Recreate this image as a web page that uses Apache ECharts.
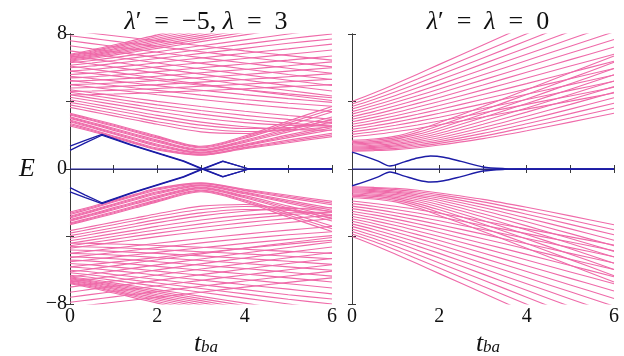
<!DOCTYPE html>
<html>
<head>
<meta charset="utf-8">
<script src="https://cdn.jsdelivr.net/npm/echarts@6/dist/echarts.min.js"></script>
<style>
html, body { margin: 0; background: #fff; }
#chart { width: 624px; height: 356px; }
</style>
</head>
<body>
<div id="chart"></div>
<script>
// sample positions along t_ba for the pink levels
const tGrid = [0, 0.5, 1, 1.5, 2, 3, 4, 5, 6]

// left panel (lambda' = -5, lambda = 3), E > 0 levels
const leftUpper = [
	[6.8, 7.05, 7.35, 7.65, 7.95, 8.6, 9.2, 9.8, 10.4],
	[6.75, 6.98, 7.27, 7.56, 7.85, 8.45, 9.02, 9.6, 10.17],
	[6.7, 6.92, 7.2, 7.48, 7.75, 8.3, 8.85, 9.4, 9.95],
	[6.65, 6.86, 7.12, 7.39, 7.65, 8.18, 8.7, 9.22, 9.75],
	[6.6, 6.8, 7.05, 7.3, 7.55, 8.05, 8.55, 9.05, 9.55],
	[6.55, 6.74, 6.97, 7.21, 7.45, 7.92, 8.4, 8.88, 9.35],
	[6.5, 6.68, 6.9, 7.12, 7.35, 7.8, 8.25, 8.7, 9.15],
	[6.45, 6.62, 6.83, 7.04, 7.25, 7.68, 8.1, 8.52, 8.95],
	[6.4, 6.55, 6.75, 6.95, 7.15, 7.55, 7.95, 8.35, 8.75],
	[6.3, 6.43, 6.6, 6.78, 6.95, 7.3, 7.65, 8.0, 8.35],
	[6.15, 6.28, 6.43, 6.6, 6.76, 7.08, 7.4, 7.72, 8.0],
	[6.0, 6.1, 6.25, 6.4, 6.55, 6.85, 7.15, 7.45, 7.7],
	[5.8, 5.9, 6.02, 6.15, 6.3, 6.58, 6.86, 7.12, 7.4],
	[5.6, 5.68, 5.8, 5.92, 6.05, 6.3, 6.55, 6.8, 7.05],
	[5.4, 5.46, 5.55, 5.65, 5.77, 6.0, 6.22, 6.45, 6.7],
	[5.2, 5.25, 5.32, 5.4, 5.5, 5.7, 5.9, 6.12, 6.35],
	[5.0, 5.04, 5.1, 5.17, 5.25, 5.42, 5.6, 5.8, 6.0],
	[4.8, 4.83, 4.88, 4.94, 5.0, 5.15, 5.3, 5.47, 5.65],
	[4.6, 4.62, 4.66, 4.71, 4.77, 4.9, 5.03, 5.17, 5.32],
	[4.4, 4.41, 4.44, 4.48, 4.53, 4.64, 4.76, 4.88, 5.0],
	[8.2, 8.05, 7.9, 7.75, 7.6, 7.3, 7.0, 6.72, 6.45],
	[7.9, 7.74, 7.58, 7.42, 7.26, 6.95, 6.64, 6.34, 6.05],
	[7.6, 7.43, 7.26, 7.09, 6.92, 6.6, 6.28, 5.97, 5.67],
	[7.3, 7.12, 6.95, 6.78, 6.6, 6.26, 5.93, 5.6, 5.3],
	[7.0, 6.82, 6.64, 6.46, 6.28, 5.93, 5.59, 5.26, 4.95],
	[6.7, 6.52, 6.34, 6.16, 5.98, 5.62, 5.27, 4.94, 4.62],
	[6.4, 6.22, 6.04, 5.86, 5.68, 5.33, 4.98, 4.65, 4.33],
	[6.1, 5.92, 5.74, 5.56, 5.38, 5.03, 4.69, 4.37, 4.06],
	[5.8, 5.66, 5.52, 5.38, 5.24, 4.96, 4.7, 4.45, 4.22],
	[5.5, 5.36, 5.22, 5.08, 4.94, 4.67, 4.41, 4.17, 3.95],
	[5.25, 5.1, 4.95, 4.8, 4.66, 4.38, 4.12, 3.9, 3.72],
	[5.0, 4.85, 4.7, 4.55, 4.4, 4.12, 3.86, 3.62, 3.4],
	[4.7, 4.52, 4.35, 4.18, 4.01, 3.7, 3.42, 3.17, 2.95],
	[4.55, 4.36, 4.17, 3.98, 3.8, 3.47, 3.18, 2.94, 2.75],
	[4.4, 4.2, 4.0, 3.8, 3.6, 3.25, 2.95, 2.72, 2.55],
	[4.25, 4.04, 3.83, 3.62, 3.4, 3.02, 2.75, 2.6, 2.55],
	[4.1, 3.87, 3.64, 3.41, 3.18, 2.78, 2.5, 2.35, 2.3],
	[3.95, 3.72, 3.48, 3.24, 3.0, 2.6, 2.4, 2.45, 2.7],
	[3.8, 3.55, 3.3, 3.05, 2.8, 2.4, 2.22, 2.3, 2.5],
	[3.65, 3.4, 3.15, 2.9, 2.65, 2.2, 2.1, 2.4, 2.9],
	[3.3, 2.98, 2.65, 2.3, 1.95, 1.35, 1.95, 2.85, 3.7],
	[3.25, 2.92, 2.59, 2.24, 1.89, 1.3, 1.88, 2.72, 3.54],
	[3.2, 2.87, 2.53, 2.18, 1.83, 1.25, 1.82, 2.6, 3.38],
	[3.1, 2.76, 2.41, 2.06, 1.71, 1.16, 1.7, 2.4, 3.08],
	[3.05, 2.7, 2.35, 2.0, 1.65, 1.12, 1.64, 2.3, 2.94],
	[3.0, 2.65, 2.29, 1.94, 1.59, 1.08, 1.58, 2.2, 2.8],
	[2.9, 2.54, 2.18, 1.82, 1.47, 1.0, 1.47, 2.02, 2.56],
	[2.85, 2.49, 2.12, 1.76, 1.41, 0.96, 1.42, 1.94, 2.44],
	[2.8, 2.44, 2.07, 1.7, 1.35, 0.93, 1.37, 1.86, 2.33],
	[2.7, 2.34, 1.96, 1.59, 1.24, 0.87, 1.28, 1.71, 2.12],
	[2.62, 2.28, 1.91, 1.54, 1.18, 0.84, 1.24, 1.63, 2.02],
	[2.55, 2.22, 1.86, 1.49, 1.13, 0.82, 1.2, 1.56, 1.92],
]

// left panel, E < 0 levels
const leftLower = [
	[-6.8, -7.05, -7.35, -7.65, -7.95, -8.6, -9.2, -9.8, -10.4],
	[-6.75, -6.98, -7.27, -7.56, -7.85, -8.45, -9.02, -9.6, -10.17],
	[-6.7, -6.92, -7.2, -7.48, -7.75, -8.3, -8.85, -9.4, -9.95],
	[-6.65, -6.86, -7.12, -7.39, -7.65, -8.18, -8.7, -9.22, -9.75],
	[-6.6, -6.8, -7.05, -7.3, -7.55, -8.05, -8.55, -9.05, -9.55],
	[-6.55, -6.74, -6.97, -7.21, -7.45, -7.92, -8.4, -8.88, -9.35],
	[-6.5, -6.68, -6.9, -7.12, -7.35, -7.8, -8.25, -8.7, -9.15],
	[-6.45, -6.62, -6.83, -7.04, -7.25, -7.68, -8.1, -8.52, -8.95],
	[-6.4, -6.55, -6.75, -6.95, -7.15, -7.55, -7.95, -8.35, -8.75],
	[-6.3, -6.43, -6.6, -6.78, -6.95, -7.3, -7.65, -8.0, -8.35],
	[-6.15, -6.28, -6.43, -6.6, -6.76, -7.08, -7.4, -7.72, -8.0],
	[-6.0, -6.1, -6.25, -6.4, -6.55, -6.85, -7.15, -7.45, -7.7],
	[-5.8, -5.9, -6.02, -6.15, -6.3, -6.58, -6.86, -7.12, -7.4],
	[-5.6, -5.68, -5.8, -5.92, -6.05, -6.3, -6.55, -6.8, -7.05],
	[-5.4, -5.46, -5.55, -5.65, -5.77, -6.0, -6.22, -6.45, -6.7],
	[-5.2, -5.25, -5.32, -5.4, -5.5, -5.7, -5.9, -6.12, -6.35],
	[-5.0, -5.04, -5.1, -5.17, -5.25, -5.42, -5.6, -5.8, -6.0],
	[-4.8, -4.83, -4.88, -4.94, -5.0, -5.15, -5.3, -5.47, -5.65],
	[-4.6, -4.62, -4.66, -4.71, -4.77, -4.9, -5.03, -5.17, -5.32],
	[-4.4, -4.41, -4.44, -4.48, -4.53, -4.64, -4.76, -4.88, -5.0],
	[-8.2, -8.05, -7.9, -7.75, -7.6, -7.3, -7.0, -6.72, -6.45],
	[-7.9, -7.74, -7.58, -7.42, -7.26, -6.95, -6.64, -6.34, -6.05],
	[-7.6, -7.43, -7.26, -7.09, -6.92, -6.6, -6.28, -5.97, -5.67],
	[-7.3, -7.12, -6.95, -6.78, -6.6, -6.26, -5.93, -5.6, -5.3],
	[-7.0, -6.82, -6.64, -6.46, -6.28, -5.93, -5.59, -5.26, -4.95],
	[-6.7, -6.52, -6.34, -6.16, -5.98, -5.62, -5.27, -4.94, -4.62],
	[-6.4, -6.22, -6.04, -5.86, -5.68, -5.33, -4.98, -4.65, -4.33],
	[-6.1, -5.92, -5.74, -5.56, -5.38, -5.03, -4.69, -4.37, -4.06],
	[-5.8, -5.66, -5.52, -5.38, -5.24, -4.96, -4.7, -4.45, -4.22],
	[-5.5, -5.36, -5.22, -5.08, -4.94, -4.67, -4.41, -4.17, -3.95],
	[-5.25, -5.1, -4.95, -4.8, -4.66, -4.38, -4.12, -3.9, -3.72],
	[-5.0, -4.85, -4.7, -4.55, -4.4, -4.12, -3.86, -3.62, -3.4],
	[-4.7, -4.52, -4.35, -4.18, -4.01, -3.7, -3.42, -3.17, -2.95],
	[-4.55, -4.36, -4.17, -3.98, -3.8, -3.47, -3.18, -2.94, -2.75],
	[-4.4, -4.2, -4.0, -3.8, -3.6, -3.25, -2.95, -2.72, -2.55],
	[-4.25, -4.04, -3.83, -3.62, -3.4, -3.02, -2.75, -2.6, -2.55],
	[-4.1, -3.87, -3.64, -3.41, -3.18, -2.78, -2.5, -2.35, -2.3],
	[-3.95, -3.72, -3.48, -3.24, -3.0, -2.6, -2.4, -2.45, -2.7],
	[-3.8, -3.55, -3.3, -3.05, -2.8, -2.4, -2.22, -2.3, -2.5],
	[-3.65, -3.4, -3.15, -2.9, -2.65, -2.2, -2.1, -2.4, -2.9],
	[-3.3, -2.98, -2.65, -2.3, -1.95, -1.35, -1.95, -2.85, -3.7],
	[-3.25, -2.92, -2.59, -2.24, -1.89, -1.3, -1.88, -2.72, -3.54],
	[-3.2, -2.87, -2.53, -2.18, -1.83, -1.25, -1.82, -2.6, -3.38],
	[-3.1, -2.76, -2.41, -2.06, -1.71, -1.16, -1.7, -2.4, -3.08],
	[-3.05, -2.7, -2.35, -2.0, -1.65, -1.12, -1.64, -2.3, -2.94],
	[-3.0, -2.65, -2.29, -1.94, -1.59, -1.08, -1.58, -2.2, -2.8],
	[-2.9, -2.54, -2.18, -1.82, -1.47, -1.0, -1.47, -2.02, -2.56],
	[-2.85, -2.49, -2.12, -1.76, -1.41, -0.96, -1.42, -1.94, -2.44],
	[-2.8, -2.44, -2.07, -1.7, -1.35, -0.93, -1.37, -1.86, -2.33],
	[-2.7, -2.34, -1.96, -1.59, -1.24, -0.87, -1.28, -1.71, -2.12],
	[-2.62, -2.28, -1.91, -1.54, -1.18, -0.84, -1.24, -1.63, -2.02],
	[-2.55, -2.22, -1.86, -1.49, -1.13, -0.82, -1.2, -1.56, -1.92],
]

// left panel in-gap (blue) states
const leftBlueT = [0, 0.35, 0.73, 1.4, 2.1, 2.6, 3.0, 3.5, 4.1, 6]
const leftBlue = [
	[1.1, 1.55, 2.0, 1.42, 0.85, 0.45, 0.02, -0.47, 0, 0],
	[1.35, 1.7, 2.05, 1.45, 0.88, 0.48, 0.05, -0.45, 0, 0],
	[-1.1, -1.55, -2.0, -1.42, -0.85, -0.45, -0.02, 0.47, 0, 0],
	[-1.35, -1.7, -2.05, -1.45, -0.88, -0.48, -0.05, 0.45, 0, 0],
]

// right panel (lambda' = lambda = 0), E > 0 levels
const rightUpper = [
	[4.0, 4.5, 5.05, 5.62, 6.2, 7.35, 8.5, 9.6, 10.7],
	[3.85, 4.3, 4.8, 5.33, 5.87, 6.95, 8.02, 9.1, 10.15],
	[3.7, 4.12, 4.58, 5.07, 5.57, 6.58, 7.6, 8.62, 9.63],
	[3.55, 3.94, 4.36, 4.81, 5.28, 6.23, 7.19, 8.15, 9.1],
	[3.4, 3.76, 4.15, 4.57, 5.0, 5.9, 6.8, 7.7, 8.6],
	[3.25, 3.58, 3.95, 4.34, 4.74, 5.58, 6.43, 7.28, 8.13],
	[3.1, 3.4, 3.75, 4.11, 4.49, 5.28, 6.07, 6.87, 7.67],
	[2.95, 3.23, 3.55, 3.89, 4.24, 4.98, 5.73, 6.48, 7.23],
	[2.8, 3.06, 3.35, 3.67, 4.0, 4.69, 5.39, 6.1, 6.8],
	[2.65, 2.89, 3.16, 3.45, 3.76, 4.41, 5.06, 5.72, 6.38],
	[2.5, 2.72, 2.97, 3.24, 3.53, 4.13, 4.74, 5.35, 5.96],
	[2.35, 2.55, 2.78, 3.03, 3.3, 3.86, 4.43, 5.0, 5.57],
	[2.2, 2.38, 2.59, 2.82, 3.07, 3.59, 4.12, 4.66, 5.2],
	[2.05, 2.21, 2.4, 2.61, 2.84, 3.33, 3.83, 4.33, 4.84],
	[1.9, 2.04, 2.21, 2.4, 2.62, 3.08, 3.55, 4.02, 4.5],
	[1.7, 1.78, 1.95, 2.3, 2.75, 3.7, 4.7, 5.7, 6.7],
	[1.62, 1.7, 1.86, 2.17, 2.58, 3.48, 4.42, 5.37, 6.32],
	[1.55, 1.62, 1.77, 2.05, 2.42, 3.26, 4.15, 5.05, 5.95],
	[1.48, 1.55, 1.68, 1.93, 2.27, 3.05, 3.88, 4.73, 5.58],
	[1.41, 1.48, 1.6, 1.82, 2.12, 2.85, 3.62, 4.42, 5.22],
	[1.35, 1.41, 1.52, 1.72, 1.98, 2.65, 3.37, 4.12, 4.88],
	[1.29, 1.34, 1.44, 1.62, 1.85, 2.46, 3.13, 3.83, 4.55],
	[1.23, 1.28, 1.37, 1.53, 1.73, 2.28, 2.9, 3.55, 4.22],
	[1.17, 1.22, 1.3, 1.44, 1.62, 2.11, 2.68, 3.28, 3.9],
	[1.11, 1.15, 1.22, 1.35, 1.52, 1.95, 2.47, 3.02, 3.6],
	[1.05, 1.09, 1.15, 1.26, 1.42, 1.8, 2.27, 2.78, 3.3],
]

// right panel, E < 0 levels
const rightLower = [
	[-4.0, -4.5, -5.05, -5.62, -6.2, -7.35, -8.5, -9.6, -10.7],
	[-3.85, -4.3, -4.8, -5.33, -5.87, -6.95, -8.02, -9.1, -10.15],
	[-3.7, -4.12, -4.58, -5.07, -5.57, -6.58, -7.6, -8.62, -9.63],
	[-3.55, -3.94, -4.36, -4.81, -5.28, -6.23, -7.19, -8.15, -9.1],
	[-3.4, -3.76, -4.15, -4.57, -5.0, -5.9, -6.8, -7.7, -8.6],
	[-3.25, -3.58, -3.95, -4.34, -4.74, -5.58, -6.43, -7.28, -8.13],
	[-3.1, -3.4, -3.75, -4.11, -4.49, -5.28, -6.07, -6.87, -7.67],
	[-2.95, -3.23, -3.55, -3.89, -4.24, -4.98, -5.73, -6.48, -7.23],
	[-2.8, -3.06, -3.35, -3.67, -4.0, -4.69, -5.39, -6.1, -6.8],
	[-2.65, -2.89, -3.16, -3.45, -3.76, -4.41, -5.06, -5.72, -6.38],
	[-2.5, -2.72, -2.97, -3.24, -3.53, -4.13, -4.74, -5.35, -5.96],
	[-2.35, -2.55, -2.78, -3.03, -3.3, -3.86, -4.43, -5.0, -5.57],
	[-2.2, -2.38, -2.59, -2.82, -3.07, -3.59, -4.12, -4.66, -5.2],
	[-2.05, -2.21, -2.4, -2.61, -2.84, -3.33, -3.83, -4.33, -4.84],
	[-1.9, -2.04, -2.21, -2.4, -2.62, -3.08, -3.55, -4.02, -4.5],
	[-1.7, -1.78, -1.95, -2.3, -2.75, -3.7, -4.7, -5.7, -6.7],
	[-1.62, -1.7, -1.86, -2.17, -2.58, -3.48, -4.42, -5.37, -6.32],
	[-1.55, -1.62, -1.77, -2.05, -2.42, -3.26, -4.15, -5.05, -5.95],
	[-1.48, -1.55, -1.68, -1.93, -2.27, -3.05, -3.88, -4.73, -5.58],
	[-1.41, -1.48, -1.6, -1.82, -2.12, -2.85, -3.62, -4.42, -5.22],
	[-1.35, -1.41, -1.52, -1.72, -1.98, -2.65, -3.37, -4.12, -4.88],
	[-1.29, -1.34, -1.44, -1.62, -1.85, -2.46, -3.13, -3.83, -4.55],
	[-1.23, -1.28, -1.37, -1.53, -1.73, -2.28, -2.9, -3.55, -4.22],
	[-1.17, -1.22, -1.3, -1.44, -1.62, -2.11, -2.68, -3.28, -3.9],
	[-1.11, -1.15, -1.22, -1.35, -1.52, -1.95, -2.47, -3.02, -3.6],
	[-1.05, -1.09, -1.15, -1.26, -1.42, -1.8, -2.27, -2.78, -3.3],
]

// right panel in-gap (blue) states
const rightBlueT = [0, 0.3, 0.6, 0.87, 1.2, 1.5, 1.8, 2.1, 2.5, 3.0, 3.5, 4, 6]
const rightBlue = [
	[1.0, 0.75, 0.47, 0.18, 0.42, 0.65, 0.77, 0.7, 0.45, 0.12, 0.02, 0, 0],
	[-1.0, -0.75, -0.47, -0.18, -0.42, -0.65, -0.77, -0.7, -0.45, -0.12, -0.02, 0, 0],
]

// zero-energy line
const zeroT = [0, 6]
const zeroLine = [0, 0]

const xTickLabels = [0, 2, 4, 6]
const yTickLabels = [-8, 0, 8]

const pink = "#ef6aa9"
const navy = "#1c1ca6"
const serif = "Liberation Serif"

function makeLines(rows, ts, panel, color, width, smooth) {
	return rows.map((vals) => ({
		type: "line",
		xAxisIndex: panel * 2,
		yAxisIndex: panel * 2,
		data: ts.map((t, i) => [t, vals[i]]),
		showSymbol: false,
		smooth: smooth,
		silent: true,
		clip: true,
		lineStyle: { color: color, width: width },
	}))
}

const frameLine = { lineStyle: { color: "#3a3a3a", width: 1 } }
const tickStyle = { inside: true, length: 4, lineStyle: { color: "#3a3a3a" } }

function xAxes(grid) {
	const base = { type: "value", gridIndex: grid, min: 0, max: 6, interval: 1, axisLine: frameLine, axisTick: tickStyle, splitLine: { show: false } }
	return [
		{
			...base,
			position: "bottom",
			axisLabel: {
				fontFamily: serif,
				fontSize: 20,
				color: "#111",
				margin: 3,
				formatter: (v) => (xTickLabels.includes(v) ? String(v) : ""),
			},
		},
		{ ...base, position: "top", axisLabel: { show: false } },
	]
}

function yAxes(grid, labels) {
	const base = { type: "value", gridIndex: grid, min: -8, max: 8, interval: 4, axisLine: frameLine, axisTick: tickStyle, splitLine: { show: false } }
	return [
		{
			...base,
			position: "left",
			axisLabel: {
				show: labels,
				fontFamily: serif,
				fontSize: 20,
				color: "#111",
				margin: 3,
				formatter: (v) => (yTickLabels.includes(v) ? String(v).replace("-", "\u2212") : ""),
			},
		},
		{ ...base, position: "right", axisLabel: { show: false } },
	]
}

const mathRich = {
	n: { fontFamily: serif, fontSize: 26, fontWeight: "normal", color: "#111" },
	i: { fontFamily: serif, fontSize: 26, fontWeight: "normal", fontStyle: "italic", color: "#111" },
}
const tbaRich = {
	t: { fontFamily: serif, fontSize: 26, fontWeight: "normal", fontStyle: "italic", color: "#111", padding: [0, 0, 7, 0] },
	s: { fontFamily: serif, fontSize: 17, fontWeight: "normal", fontStyle: "italic", color: "#111" },
}

const chart = echarts.init(document.getElementById("chart"))
chart.setOption({
	animation: false,
	backgroundColor: "#fff",
	title: [
		{ text: "{i|λ}{n|′\u2002=\u2002−5, }{i|λ}{n|\u2002=\u20023}", left: 201, top: 4, textAlign: "center", textStyle: { rich: mathRich } },
		{ text: "{i|λ}{n|′\u2002=\u2002}{i|λ}{n|\u2002=\u20020}", left: 483, top: 4, textAlign: "center", textStyle: { rich: mathRich } },
		{ text: "{i|E}", left: 22, top: 151, textAlign: "center", textStyle: { rich: mathRich } },
		{ text: "{t|t}{s|ba}", left: 201, top: 326, textAlign: "center", textStyle: { rich: tbaRich } },
		{ text: "{t|t}{s|ba}", left: 483, top: 326, textAlign: "center", textStyle: { rich: tbaRich } },
	],
	grid: [
		{ left: 70, top: 34, width: 262, height: 270 },
		{ left: 352, top: 34, width: 262, height: 270 },
	],
	xAxis: [...xAxes(0), ...xAxes(1)],
	yAxis: [...yAxes(0, true), ...yAxes(1, false)],
	series: [
		...makeLines(leftUpper, tGrid, 0, pink, 1.1, 0.3),
		...makeLines(leftLower, tGrid, 0, pink, 1.1, 0.3),
		...makeLines(rightUpper, tGrid, 1, pink, 1.1, 0.3),
		...makeLines(rightLower, tGrid, 1, pink, 1.1, 0.3),
		...makeLines([zeroLine], zeroT, 0, navy, 1.2, false),
		...makeLines([zeroLine], zeroT, 1, navy, 1.2, false),
		...makeLines(leftBlue, leftBlueT, 0, navy, 1.3, false),
		...makeLines(rightBlue, rightBlueT, 1, navy, 1.4, 0.3),
	],
})
</script>
</body>
</html>
